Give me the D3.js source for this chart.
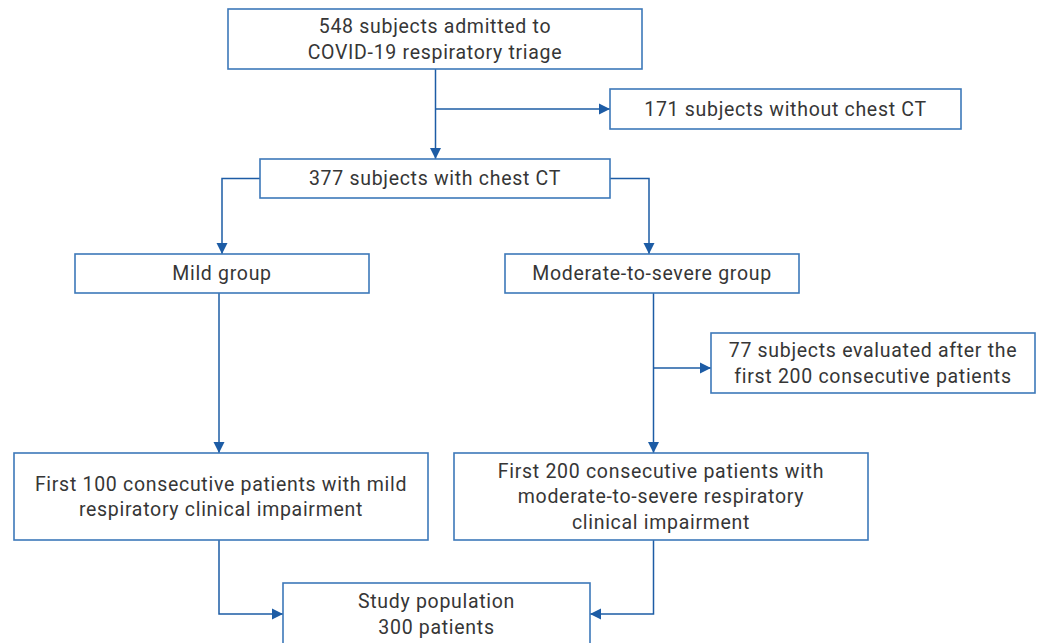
<!DOCTYPE html>
<html>
<head>
<meta charset="utf-8">
<script src="https://cdn.jsdelivr.net/npm/d3@7"></script>
<style>
  html, body { margin: 0; padding: 0; background: #fff; }
  svg { display: block; }
</style>
</head>
<body>
<svg id="chart" width="1042" height="643"></svg>
<script>
// ---- Data: node ids and their text labels ----
const nodeIds = ["triage", "noCT", "withCT", "mild", "modsev", "excluded", "first100", "first200", "study"];
const nodeLabels = [
  ["548 subjects admitted to", "COVID-19 respiratory triage"],
  ["171 subjects without chest CT"],
  ["377 subjects with chest CT"],
  ["Mild group"],
  ["Moderate-to-severe group"],
  ["77 subjects evaluated after the", "first 200 consecutive patients"],
  ["First 100 consecutive patients with mild", "respiratory clinical impairment"],
  ["First 200 consecutive patients with", "moderate-to-severe respiratory", "clinical impairment"],
  ["Study population", "300 patients"]
];
// connections (from -> to)
const edgeFrom = ["triage", "triage", "withCT", "withCT", "mild", "modsev", "modsev", "first100", "first200"];
const edgeTo   = ["withCT", "noCT",   "mild",   "modsev", "first100", "first200", "excluded", "study", "study"];

// ---- Layout (positions / sizes, kept apart from data) ----
const layout = {
  triage:   {x: 228, y: 9,   w: 414, h: 60},
  noCT:     {x: 610, y: 89,  w: 351, h: 40},
  withCT:   {x: 260, y: 159, w: 350, h: 39},
  mild:     {x: 75,  y: 254, w: 294, h: 39},
  modsev:   {x: 505, y: 254, w: 294, h: 39},
  excluded: {x: 711, y: 333, w: 324, h: 60},
  first100: {x: 14,  y: 453, w: 414, h: 87},
  first200: {x: 454, y: 453, w: 414, h: 87},
  study:    {x: 283, y: 583, w: 307, h: 62}
};
// edge routing in terms of node geometry
function route(from, to) {
  const a = layout[from], b = layout[to];
  const key = from + ">" + to;
  switch (key) {
    case "triage>withCT":  return [[435.5, a.y + a.h], [435.5, b.y]];
    case "triage>noCT":    return [[435.5, b.y + b.h / 2], [b.x, b.y + b.h / 2]];
    case "withCT>mild":    return [[a.x, a.y + a.h / 2], [222, a.y + a.h / 2], [222, b.y]];
    case "withCT>modsev":  return [[a.x + a.w, a.y + a.h / 2], [649, a.y + a.h / 2], [649, b.y]];
    case "mild>first100":  return [[219, a.y + a.h], [219, b.y]];
    case "modsev>first200":return [[653.5, a.y + a.h], [653.5, b.y]];
    case "modsev>excluded":return [[653.5, b.y + 35], [b.x, b.y + 35]];
    case "first100>study": return [[219, a.y + a.h], [219, 614], [b.x, 614]];
    case "first200>study": return [[653.5, a.y + a.h], [653.5, 614], [b.x + b.w, 614]];
  }
}

const lineColor = "#1d5ca5";
const boxColor = "#3d78b9";
const textColor = "#363636";
const fontSize = 19.5;
const lineGap = 25.5;

const svg = d3.select("#chart");

svg.append("defs").append("marker")
  .attr("id", "arrow")
  .attr("viewBox", "0 0 10 10")
  .attr("refX", 10).attr("refY", 5)
  .attr("markerWidth", 11).attr("markerHeight", 12)
  .attr("markerUnits", "userSpaceOnUse")
  .attr("orient", "auto")
  .append("path")
  .attr("d", "M0,0 L10,5 L0,10 Z")
  .attr("fill", lineColor);

const lineGen = d3.line();

svg.append("g").selectAll("path")
  .data(edgeFrom.map((f, i) => ({from: f, to: edgeTo[i]})))
  .join("path")
  .attr("d", d => lineGen(route(d.from, d.to)))
  .attr("fill", "none")
  .attr("stroke", lineColor)
  .attr("stroke-width", 1.5)
  .attr("marker-end", "url(#arrow)");

const nodes = nodeIds.map((id, i) => ({id, lines: nodeLabels[i], ...layout[id]}));

const g = svg.append("g").selectAll("g")
  .data(nodes)
  .join("g");

g.append("rect")
  .attr("x", d => d.x).attr("y", d => d.y)
  .attr("width", d => d.w).attr("height", d => d.h)
  .attr("fill", "#fff")
  .attr("stroke", boxColor)
  .attr("stroke-width", 1.6);

g.each(function(d) {
  const cx = d.x + d.w / 2, cy = d.y + d.h / 2;
  const n = d.lines.length;
  d3.select(this).selectAll("text")
    .data(d.lines)
    .join("text")
    .attr("x", cx)
    .attr("y", (t, i) => cy + (i - (n - 1) / 2) * lineGap + 6.8)
    .attr("text-anchor", "middle")
    .attr("font-family", "Roboto, 'DejaVu Sans', sans-serif")
    .attr("font-size", fontSize)
    .attr("letter-spacing", 0.7)
    .attr("fill", textColor)
    .text(t => t);
});
</script>
</body>
</html>
